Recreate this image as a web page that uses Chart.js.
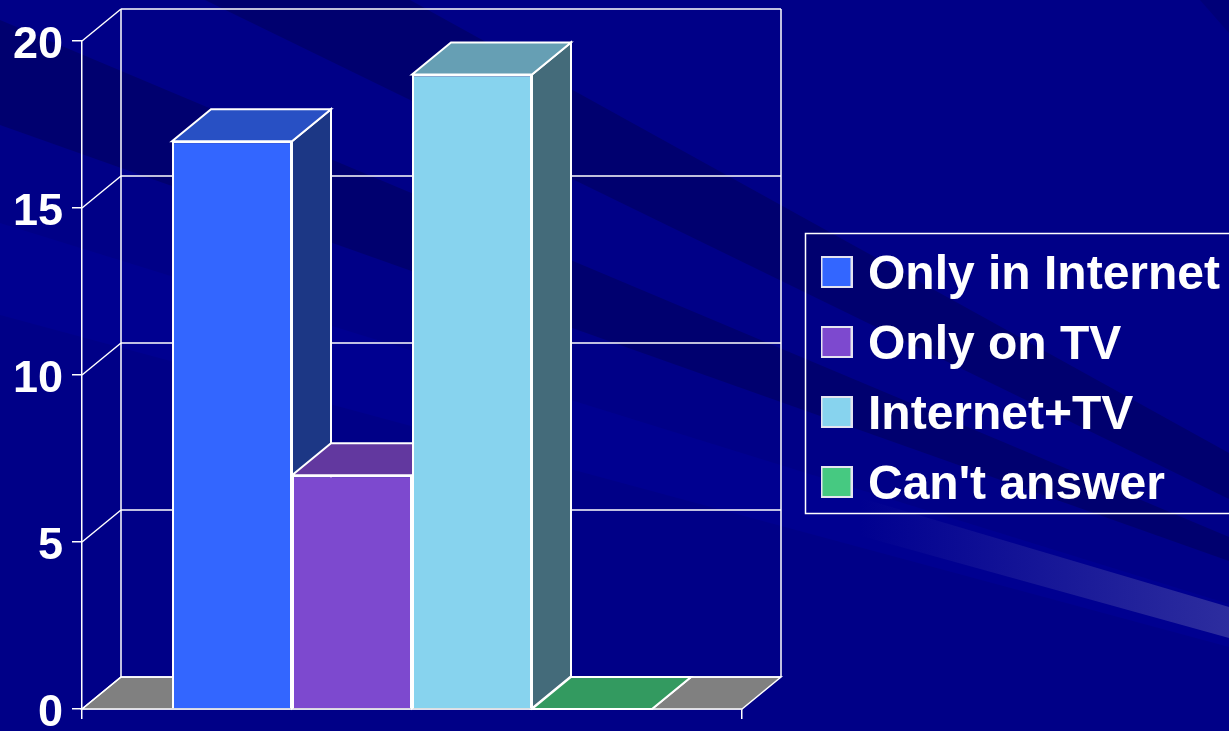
<!DOCTYPE html>
<html>
<head>
<meta charset="utf-8">
<style>
  html, body { margin: 0; padding: 0; background: #000087; overflow: hidden; }
  canvas { display: block; }
</style>
<script src="https://cdn.jsdelivr.net/npm/chart.js@4/dist/chart.umd.min.js"></script>
</head>
<body>
<canvas id="myChart" width="1229" height="731"></canvas>
<script>
var categories = ["Answers"];
var seriesNames = ["Only in Internet", "Only on TV", "Internet+TV", "Can't answer"];
var seriesValues = [17, 7, 19, 0];
var yTicks = [0, 5, 10, 15, 20];

var frontColors = ["#3366ff", "#7d49cf", "#87d3ee", "#46c981"];
var topColors = ["#2850c4", "#62389f", "#669fb4", "#339a60"];
var sideColors = ["#1c3785", "#62389f", "#446b7a", "#339a60"];

// how far the back wall sits from the front of the plot
var depthX = 39;
var depthY = -32;

function poly(ctx, pts, fill) {
  ctx.beginPath();
  ctx.moveTo(pts[0][0], pts[0][1]);
  for (let i = 1; i < pts.length; i++) {
    ctx.lineTo(pts[i][0], pts[i][1]);
  }
  ctx.closePath();
  if (fill) {
    ctx.fillStyle = fill;
    ctx.fill();
  }
  ctx.stroke();
}

function line(ctx, x1, y1, x2, y2) {
  ctx.beginPath();
  ctx.moveTo(x1, y1);
  ctx.lineTo(x2, y2);
  ctx.stroke();
}

// swatch used as the legend's point style, so the text can sit close to it
// the canvas is taller than the square to lift it a bit against the text
function swatch(color) {
  var c = document.createElement("canvas");
  c.width = 32;
  c.height = 40;
  var g = c.getContext("2d");
  g.fillStyle = color;
  g.fillRect(0, 0, 32, 32);
  g.strokeStyle = "#e4e4f0";
  g.lineWidth = 2;
  g.strokeRect(1, 1, 30, 30);
  return c;
}

// slide background: dark and light streaks, not data
var background = {
  id: "background",
  beforeDraw: function (chart) {
    var ctx = chart.ctx;
    ctx.save();
    ctx.fillStyle = "#000087";
    ctx.fillRect(0, 0, 1229, 731);
    ctx.strokeStyle = "rgba(0,0,0,0)";
    var dark = "#00006f";
    poly(ctx, [[0, 223], [1229, 604], [1229, 647], [0, 315]], "#000090");
    poly(ctx, [[205, 0], [410, 0], [1229, 453], [1229, 499]], dark);
    poly(ctx, [[0, 20], [1229, 537], [1229, 561], [0, 125]], dark);
    poly(ctx, [[1200, 0], [1229, 0], [1229, 33]], "#000078");
    var g = ctx.createLinearGradient(860, 0, 1229, 0);
    g.addColorStop(0, "rgba(50,50,160,0)");
    g.addColorStop(1, "rgba(50,50,160,0.9)");
    poly(ctx, [[800, 480], [1229, 607], [1229, 638], [800, 519]], g);
    ctx.restore();
  }
};

var box3d = {
  id: "box3d",
  beforeDatasetsDraw: function (chart) {
    var ctx = chart.ctx;
    var a = chart.chartArea;
    var y = chart.scales.y;
    ctx.save();
    ctx.strokeStyle = "#ffffff";
    ctx.lineWidth = 1.5;

    // floor
    poly(ctx, [[a.left, a.bottom], [a.left + depthX, a.bottom + depthY], [a.right + depthX, a.bottom + depthY], [a.right, a.bottom]], "#808080");

    // back wall and side wall lines
    for (let i = 0; i < yTicks.length; i++) {
      var py = y.getPixelForValue(yTicks[i]);
      line(ctx, a.left, py, a.left + depthX, py + depthY);
      line(ctx, a.left + depthX, py + depthY, a.right + depthX, py + depthY);
    }
    line(ctx, a.left + depthX, a.top + depthY, a.left + depthX, a.bottom + depthY);
    line(ctx, a.right + depthX, a.top + depthY, a.right + depthX, a.bottom + depthY);

    // top and side of each bar, in series order so later bars cover earlier ones
    ctx.lineWidth = 2;
    for (let i = 0; i < chart.data.datasets.length; i++) {
      var bar = chart.getDatasetMeta(i).data[0];
      var l = bar.x - bar.width / 2;
      var r = bar.x + bar.width / 2;
      poly(ctx, [[r, bar.y], [r + depthX, bar.y + depthY], [r + depthX, bar.base + depthY], [r, bar.base]], sideColors[i]);
      poly(ctx, [[l, bar.y], [l + depthX, bar.y + depthY], [r + depthX, bar.y + depthY], [r, bar.y]], topColors[i]);
    }
    ctx.restore();
  }
};

var legendFrame = {
  id: "legendFrame",
  afterLayout: function (chart) {
    var lg = chart.legend;
    var w = lg.width, h = lg.height;
    lg.left = 807;
    lg.right = lg.left + w;
    lg.top = 230;
    lg.bottom = lg.top + h;
  },
  beforeDatasetsDraw: function (chart) {
    var ctx = chart.ctx;
    ctx.save();
    ctx.strokeStyle = "#ffffff";
    ctx.lineWidth = 1.5;
    ctx.strokeRect(805.5, 233.5, 440, 280);
    ctx.restore();
  }
};

var datasets = [];
for (let i = 0; i < seriesNames.length; i++) {
  datasets.push({
    label: seriesNames[i],
    data: [seriesValues[i]],
    backgroundColor: frontColors[i],
    borderColor: "#ffffff",
    borderWidth: 2
  });
}

new Chart("myChart", {
  type: "bar",
  data: { labels: categories, datasets: datasets },
  plugins: [background, box3d, legendFrame],
  options: {
    responsive: false,
    animation: false,
    layout: { padding: { left: 0, top: 41, right: 487, bottom: 0 } },
    categoryPercentage: 480 / 660,
    barPercentage: 1,
    plugins: {
      tooltip: { enabled: false },
      title: { display: false },
      legend: {
        position: "chartArea",
        align: "start",
        labels: {
          color: "#ffffff",
          font: { family: "'Liberation Sans', Arial, sans-serif", size: 48, weight: "bold" },
          usePointStyle: true,
          pointStyleWidth: 15,
          boxHeight: 32,
          padding: 22,
          generateLabels: function () {
            return seriesNames.map(function (name, i) {
              return { text: name, pointStyle: swatch(frontColors[i]), fontColor: "#ffffff", datasetIndex: i };
            });
          }
        }
      }
    },
    scales: {
      x: {
        grid: { drawOnChartArea: false, color: "#ffffff", tickLength: 10, lineWidth: 1.5 },
        border: { color: "#ffffff", width: 1.5 },
        ticks: { display: false },
        afterFit: function (s) { s.height = 22; s.paddingLeft = 0; s.paddingRight = 0; }
      },
      y: {
        min: 0,
        max: 20,
        afterBuildTicks: function (s) { s.ticks = yTicks.map(function (v) { return { value: v }; }); },
        grid: { drawOnChartArea: false, color: "#ffffff", tickLength: 10, lineWidth: 1.5 },
        border: { color: "#ffffff", width: 1.5 },
        ticks: {
          color: "#ffffff",
          font: { family: "'Liberation Sans', Arial, sans-serif", size: 45, weight: "bold" },
          padding: 9,
          labelOffset: 5
        },
        afterFit: function (s) { s.width = 82; s.paddingTop = 0; s.paddingBottom = 0; }
      }
    }
  }
});
</script>
</body>
</html>
